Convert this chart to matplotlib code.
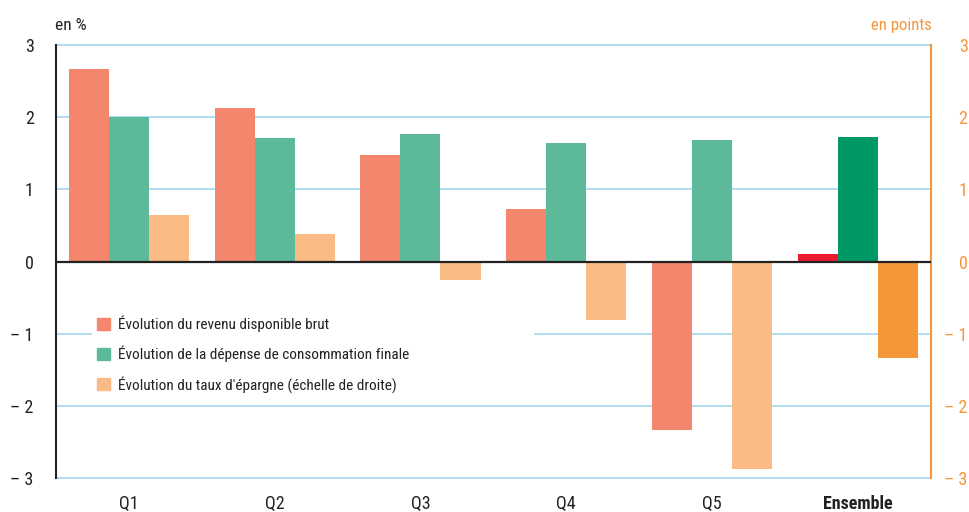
import numpy as np
import matplotlib
matplotlib.use("Agg")
import matplotlib.pyplot as plt
from matplotlib.patches import Patch, Rectangle

plt.rcParams['font.family'] = ['Roboto Condensed', 'Archivo Narrow', 'DejaVu Sans']

# --- data ---
groups = ['Q1', 'Q2', 'Q3', 'Q4', 'Q5', 'Ensemble']
revenu = [2.67, 2.13, 1.48, 0.73, -2.34, 0.11]
depense = [2.00, 1.71, 1.77, 1.64, 1.69, 1.73]
epargne = [0.65, 0.38, -0.25, -0.81, -2.88, -1.34]   # right scale, in points
yticks = [-3, -2, -1, 0, 1, 2, 3]
series_labels = ["Évolution du revenu disponible brut",
                 "Évolution de la dépense de consommation finale",
                 "Évolution du taux d'épargne (échelle de droite)"]

# --- colours ---
c_rev, c_dep, c_epa = '#f4866e', '#5cb99a', '#fbbb84'
c_rev_tot, c_dep_tot, c_epa_tot = '#ec1c2e', '#009966', '#f59638'
grid_col = '#9ed3f0'
orange_axis = '#f5963a'
dark = '#222222'

fig = plt.figure(figsize=(9.7, 5.12), dpi=100)
ax = fig.add_axes([0.0577, 0.0664, 0.9018, 0.8456])
ax2 = ax.twinx()

x = np.arange(len(groups))
w = 0.275
n = len(groups)
rev_cols = [c_rev] * (n - 1) + [c_rev_tot]
dep_cols = [c_dep] * (n - 1) + [c_dep_tot]
epa_cols = [c_epa] * (n - 1) + [c_epa_tot]

ax.bar(x - w, revenu, w, color=rev_cols, zorder=3)
ax.bar(x, depense, w, color=dep_cols, zorder=3)
ax2.bar(x + w, epargne, w, color=epa_cols, zorder=3)

for a in (ax, ax2):
    a.set_ylim(-3, 3)
    a.set_xlim(-0.5, n - 0.5)
    a.set_yticks(yticks)

# grid lines (not clipped, so the ones at +/-3 show fully)
for v in yticks:
    if v != 0:
        ax.axhline(v, color=grid_col, lw=1.1, zorder=1, clip_on=False)
ax2.axhline(0, color=dark, lw=1.6, zorder=4)

# white box behind the legend (hides the -1 grid line)
ax.add_patch(Rectangle((0.041, 0.18), 0.506, 0.21, transform=ax.transAxes,
                       facecolor='white', edgecolor='none', zorder=2))

tick_txt = [('\u2013 %d' % -v) if v < 0 else str(v) for v in yticks]
ax.set_yticklabels(tick_txt, fontsize=13, color=dark)
ax2.set_yticklabels(tick_txt, fontsize=13, color=orange_axis, ha='right')
ax.tick_params(axis='y', length=0, pad=16)
ax2.tick_params(axis='y', length=0, pad=26.5)

ax.set_xticks(x)
ax.set_xticklabels(groups, fontsize=13, color=dark)
ax.get_xticklabels()[-1].set_fontweight('bold')
ax.tick_params(axis='x', length=0, pad=12)

for a in (ax, ax2):
    a.spines['top'].set_visible(False)
    a.spines['bottom'].set_visible(False)
ax.spines['right'].set_visible(False)
ax2.spines['left'].set_visible(False)
ax.spines['left'].set_color(dark)
ax.spines['left'].set_linewidth(1.5)
ax2.spines['right'].set_color(orange_axis)
ax2.spines['right'].set_linewidth(1.5)

fig.text(0.057, 0.951, 'en %', fontsize=12.5, color=dark, ha='left', va='center')
fig.text(0.961, 0.951, 'en points', fontsize=12, color=orange_axis, ha='right', va='center')

handles = [Patch(color=c) for c in (c_rev, c_dep, c_epa)]
leg = ax2.legend(handles, series_labels, loc='center left', bbox_to_anchor=(0.047, 0.286),
                 frameon=False, fontsize=11, handlelength=0.85, handleheight=0.85,
                 handletextpad=0.55, labelspacing=0.9, borderpad=0, borderaxespad=0)
for t in leg.get_texts():
    t.set_color(dark)
leg.set_zorder(5)

fig.savefig('out.png', dpi=100)
